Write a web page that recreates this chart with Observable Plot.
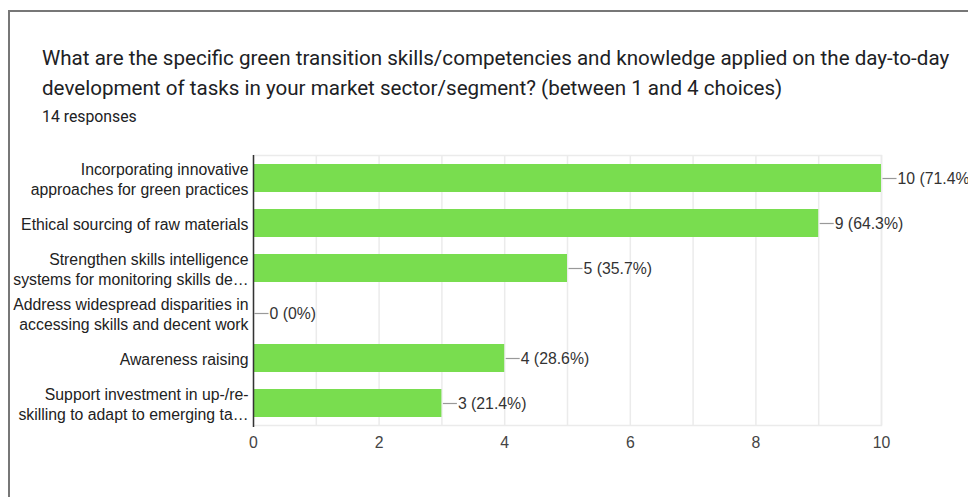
<!DOCTYPE html>
<html>
<head>
<meta charset="utf-8">
<script src="https://cdn.jsdelivr.net/npm/d3@7"></script>
<script src="https://cdn.jsdelivr.net/npm/@observablehq/plot@0.6"></script>
<style>
  html, body { margin: 0; padding: 0; background: #fff; width: 968px; height: 497px; overflow: hidden; position: relative; }
  #card { position: absolute; left: 8px; top: 10px; width: 1200px; height: 800px; border-left: 2px solid #777; border-top: 2px solid #777; box-sizing: border-box; }
  #title { position: absolute; left: 42px; top: 43px; font-family: Roboto, "Noto Sans", sans-serif; font-size: 20.6px; line-height: 30px; color: #202124; white-space: nowrap; }
  #sub { position: absolute; left: 42px; top: 107px; font-family: Roboto, "Noto Sans", sans-serif; font-size: 15.8px; line-height: 20px; color: #202124; }
  #chart { position: absolute; left: 0; top: 140px; }
</style>
</head>
<body>
<div id="card"></div>
<div id="title">What are the specific green transition skills/competencies and knowledge applied on the day-to-day<br>development of tasks in your market sector/segment? (between 1 and 4 choices)</div>
<div id="sub">14 responses</div>
<div id="chart"></div>
<script>
const categories = [
  "Incorporating innovative\napproaches for green practices",
  "Ethical sourcing of raw materials",
  "Strengthen skills intelligence\nsystems for monitoring skills de…",
  "Address widespread disparities in\naccessing skills and decent work",
  "Awareness raising",
  "Support investment in up-/re-\nskilling to adapt to emerging ta…"
];
const counts = [10, 9, 5, 0, 4, 3];
const valueLabels = ["10 (71.4%)", "9 (64.3%)", "5 (35.7%)", "0 (0%)", "4 (28.6%)", "3 (21.4%)"];
const xTicks = [0, 2, 4, 6, 8, 10];
const gridValues = [1, 2, 3, 4, 5, 6, 7, 8, 9, 10];

const data = categories.map((c, i) => ({category: c, count: counts[i], label: valueLabels[i]}));

const leader = { draw(context) { context.moveTo(1, 0); context.lineTo(15, 0); } };

const chart = Plot.plot({
  width: 968,
  height: 325,
  marginLeft: 253,
  marginRight: 87,
  marginTop: 15,
  marginBottom: 40,
  style: { fontFamily: "'Liberation Sans', Arial, sans-serif", fontSize: "16px", color: "#444", background: "transparent" },
  x: { domain: [0, 10] },
  y: { domain: categories, paddingInner: 0.38, paddingOuter: 0.19 },
  marks: [
    Plot.frame({ stroke: "#ebebeb", strokeWidth: 1.5 }),
    Plot.ruleX(gridValues, { stroke: "#ebebeb", strokeWidth: 1.5 }),
    Plot.barX(data, { y: "category", x: "count", fill: "#79dd4f" }),
    Plot.dot(data, { y: "category", x: "count", symbol: leader, stroke: "#999", fill: "none", strokeWidth: 1.2 }),
    Plot.text(data, { y: "category", x: "count", text: "label", dx: 16, textAnchor: "start", fill: "#333", fontSize: 15.8 }),
    Plot.ruleX([0], { stroke: "#333", strokeWidth: 1.5, insetBottom: -2 }),
    Plot.axisX({ ticks: xTicks, tickSize: 0, tickPadding: 11, tickFormat: d => String(d), fill: "#444", label: null, fontSize: 15.8 }),
    Plot.axisY({ tickSize: 0, tickPadding: 5, fill: "#222", label: null, lineHeight: 1.24, fontSize: 15.8, textOverflow: null })
  ]
});
document.getElementById("chart").appendChild(chart);
</script>
</body>
</html>
